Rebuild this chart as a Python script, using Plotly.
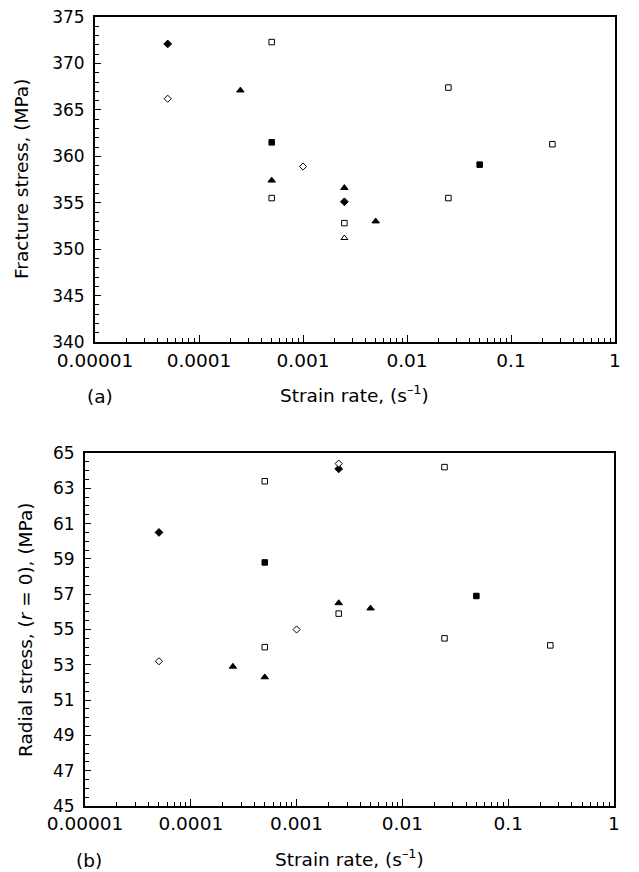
import plotly.graph_objects as go
from plotly.subplots import make_subplots

W, H = 639, 872
OFF = 8  # browser body margin

# ---- panel (a): fracture stress ----
a_fdiam_x = [5e-5, 2.5e-3]
a_fdiam_y = [372.1, 355.1]
a_odiam_x = [5e-5, 1e-3]
a_odiam_y = [366.2, 358.9]
a_ftri_x = [2.5e-4, 5e-4, 2.5e-3, 5e-3]
a_ftri_y = [367.1, 357.4, 356.6, 353.0]
a_otri_x = [2.5e-3]
a_otri_y = [351.2]
a_osq_x = [5e-4, 5e-4, 2.5e-3, 0.025, 0.025, 0.25]
a_osq_y = [372.3, 355.5, 352.8, 367.4, 355.5, 361.3]
a_fsq_x = [5e-4, 0.05]
a_fsq_y = [361.5, 359.1]

# ---- panel (b): radial stress ----
b_fdiam_x = [5e-5, 2.5e-3]
b_fdiam_y = [60.5, 64.1]
b_odiam_x = [5e-5, 1e-3, 2.5e-3]
b_odiam_y = [53.2, 55.0, 64.4]
b_ftri_x = [2.5e-4, 5e-4, 2.5e-3, 5e-3]
b_ftri_y = [52.9, 52.3, 56.5, 56.2]
b_osq_x = [5e-4, 5e-4, 2.5e-3, 0.025, 0.025, 0.25]
b_osq_y = [63.4, 54.0, 55.9, 64.2, 54.5, 54.1]
b_fsq_x = [5e-4, 0.05]
b_fsq_y = [58.8, 56.9]

x_ticks = [1e-5, 1e-4, 1e-3, 1e-2, 1e-1, 1]
x_ticktext = ["0.00001", "0.0001", "0.001", "0.01", "0.1", "1"]
x_minor = [m * d for d in x_ticks[:-1] for m in range(2, 10)]
a_yticks = [340, 345, 350, 355, 360, 365, 370, 375]
b_yticks = [45, 47, 49, 51, 53, 55, 57, 59, 61, 63, 65]

FONT = "DejaVu Sans, Verdana, sans-serif"


def px_x(v):
    return (v - OFF) / W


def px_y(v):
    return 1 - (v - OFF) / H


fig = make_subplots(rows=2, cols=1)


def marker(symbol, filled, size):
    return dict(symbol=symbol, size=size, color="black" if filled else "white",
                line=dict(color="black", width=1))


def add_series(x, y, sym, filled, size, row):
    fig.add_trace(go.Scatter(x=x, y=y, mode="markers", marker=marker(sym, filled, size),
                             showlegend=False, cliponaxis=False), row=row, col=1)


add_series(a_fdiam_x, a_fdiam_y, "diamond", True, 6, 1)
add_series(a_odiam_x, a_odiam_y, "diamond", False, 5.5, 1)
add_series(a_ftri_x, a_ftri_y, "triangle-up", True, 6.5, 1)
add_series(a_otri_x, a_otri_y, "triangle-up", False, 6, 1)
add_series(a_osq_x, a_osq_y, "square", False, 5.5, 1)
add_series(a_fsq_x, a_fsq_y, "square", True, 5.5, 1)

add_series(b_fdiam_x, b_fdiam_y, "diamond", True, 6, 2)
add_series(b_odiam_x, b_odiam_y, "diamond", False, 5.5, 2)
add_series(b_ftri_x, b_ftri_y, "triangle-up", True, 6.5, 2)
add_series(b_osq_x, b_osq_y, "square", False, 5.5, 2)
add_series(b_fsq_x, b_fsq_y, "square", True, 5.5, 2)

common = dict(showgrid=False, zeroline=False, showline=True, linecolor="black", linewidth=2,
              mirror=True, ticks="inside", tickcolor="black", automargin=False,
              ticklabeloverflow="allow")

xcommon = dict(type="log", range=[-5, 0], tickmode="array", tickvals=x_ticks,
               ticktext=x_ticktext, ticklen=7, tickwidth=1,
               tickfont=dict(family=FONT, size=18.5, color="black"),
               minor=dict(tickmode="array", tickvals=x_minor, ticks="inside",
                          ticklen=4, tickcolor="black", tickwidth=1))

fig.update_xaxes(**common, **xcommon)
fig.update_xaxes(domain=[px_x(95), px_x(615)], ticklabelstandoff=1, row=1, col=1)
fig.update_xaxes(domain=[px_x(85), px_x(614)], ticklabelstandoff=0, row=2, col=1)

fig.update_yaxes(**common, tickfont=dict(family=FONT, size=17, color="black"),
                 ticklabelstandoff=5, tickmode="array", ticklen=6)
fig.update_yaxes(domain=[px_y(342), px_y(17)], range=[340, 375], tickvals=a_yticks,
                 minor=dict(dtick=1, tick0=340, ticks="inside", ticklen=4, tickcolor="black"),
                 row=1, col=1)
fig.update_yaxes(domain=[px_y(806), px_y(453)], range=[45, 65], tickvals=b_yticks,
                 minor=dict(dtick=0.5, tick0=45, ticks="inside", ticklen=4, tickcolor="black"),
                 row=2, col=1)

tfont = dict(family=FONT, size=18.5, color="black")
annos = [
    ("Fracture stress, (MPa)", 22, 179, 90),
    ("Radial stress, (<i>r</i> = 0), (MPa)", 25, 630, 90),
    ("Strain rate, (s<sup>\u20131</sup>)", 355, 394, 0),
    ("Strain rate, (s<sup>\u20131</sup>)", 349, 858, 0),
    ("(a)", 100, 396, 0),
    ("(b)", 89, 860, 0),
]
for text, xp, yp, ang in annos:
    fig.add_annotation(text=text, x=px_x(xp), y=px_y(yp), xref="paper", yref="paper",
                       showarrow=False, textangle=-ang, font=tfont,
                       xanchor="center", yanchor="middle")

fig.update_layout(width=W, height=H, margin=dict(l=0, r=0, t=0, b=0),
                  plot_bgcolor="white", paper_bgcolor="white", showlegend=False)

fig.write_html("out.html")
